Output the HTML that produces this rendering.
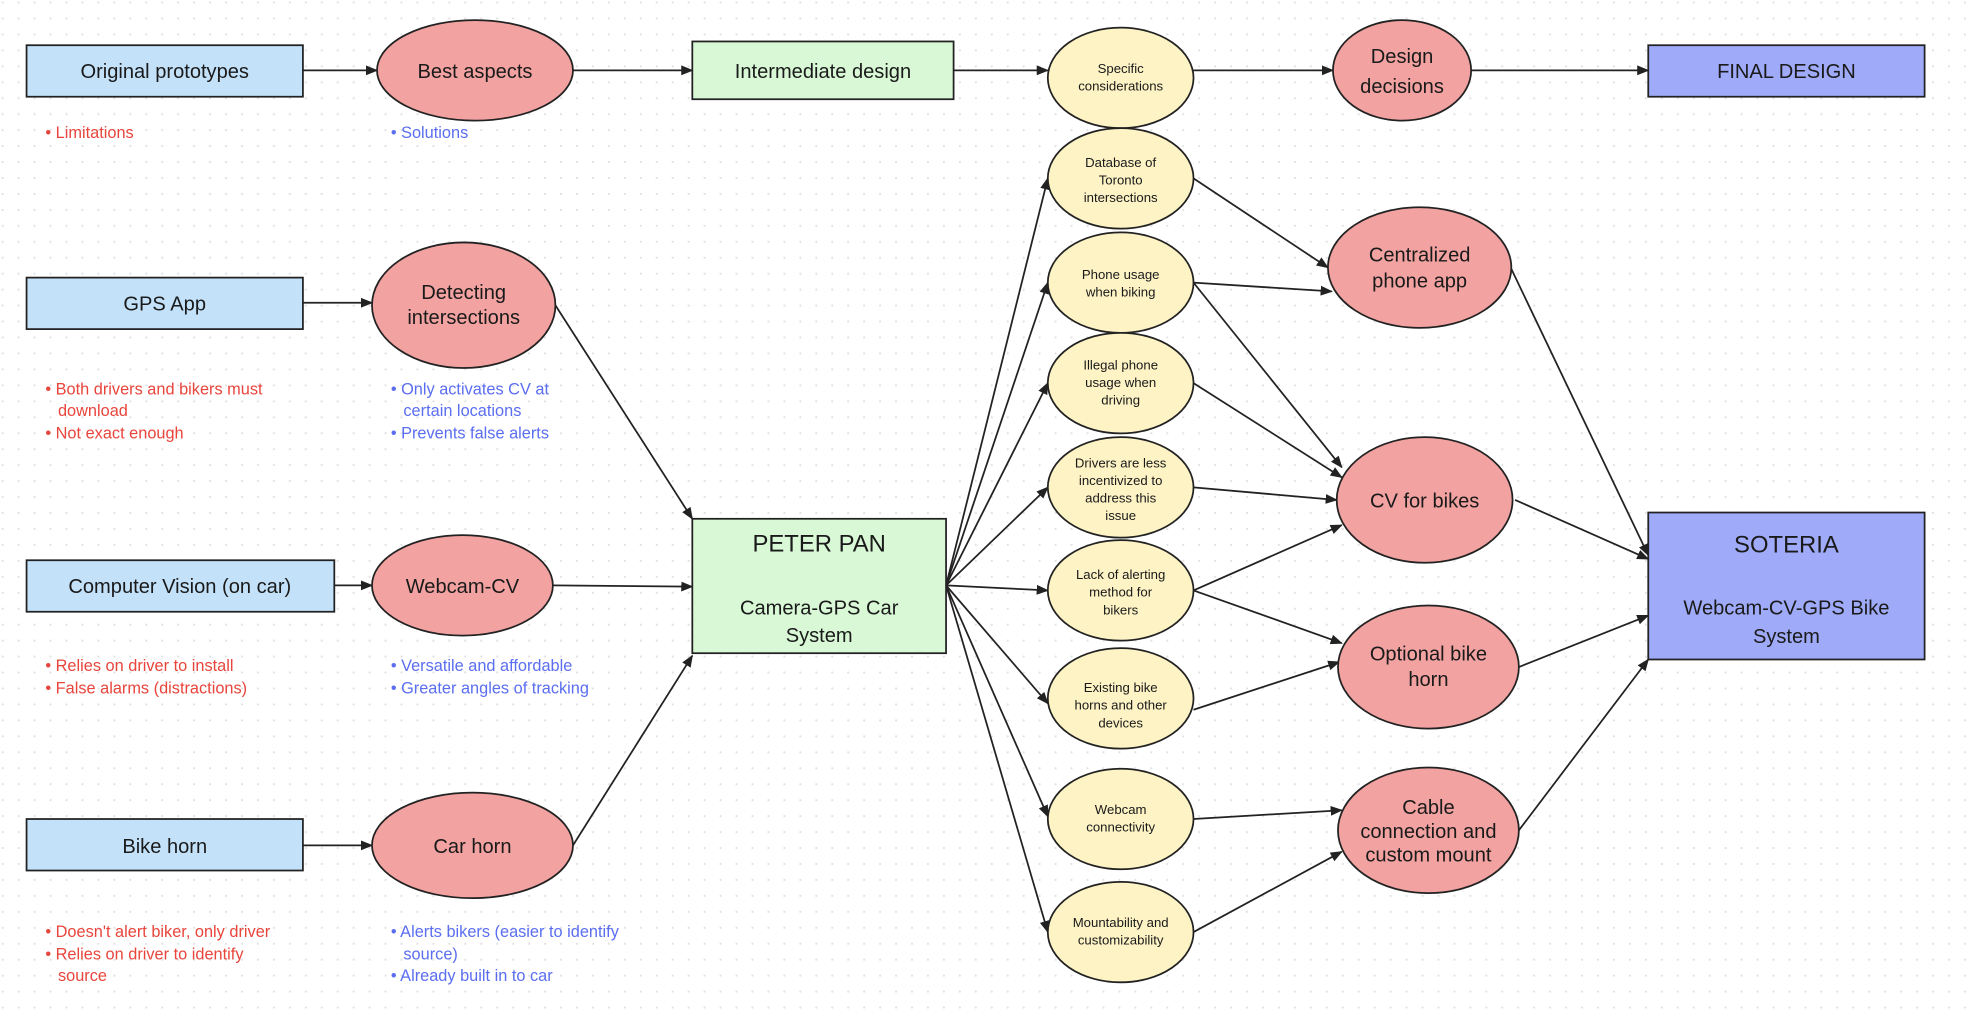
<!DOCTYPE html>
<html><head><meta charset="utf-8"><style>
html,body{margin:0;padding:0;background:#fff}
svg{display:block}
text{font-family:"Liberation Sans",sans-serif;fill:#1a1a1a}
.b{font-size:16px}
.s{font-size:10.5px}
.r{font-size:13px;fill:#e8453c}
.u{font-size:13px;fill:#5b6ef0}
</style></head><body>
<svg width="1970" height="1020" viewBox="0 0 1568 812" xmlns="http://www.w3.org/2000/svg">
<defs>
<pattern id="d" width="12.7" height="12.7" patternUnits="userSpaceOnUse"><circle cx="2" cy="2" r="0.9" fill="#e2e2e2"/></pattern>
<marker id="a" viewBox="0 0 10 10" refX="9" refY="5" markerWidth="7" markerHeight="7" orient="auto"><path d="M0,1 L10,5 L0,9 z" fill="#222"/></marker>
</defs>
<rect width="1568" height="812" fill="url(#d)"/>
<g stroke="#222" stroke-width="1.4" fill="none" marker-end="url(#a)">
<line x1="241" y1="56" x2="300" y2="56"/>
<line x1="456" y1="56" x2="551" y2="56"/>
<line x1="759" y1="56" x2="834" y2="56"/>
<line x1="950" y1="56" x2="1061" y2="56"/>
<line x1="1171" y1="56" x2="1312" y2="56"/>
<line x1="241" y1="241" x2="296" y2="241"/>
<line x1="266" y1="466" x2="296" y2="466"/>
<line x1="241" y1="673" x2="296" y2="673"/>
<line x1="442" y1="243" x2="551" y2="413"/>
<line x1="440" y1="466" x2="551" y2="467"/>
<line x1="456" y1="673" x2="551" y2="522"/>
<line x1="753" y1="466" x2="834" y2="142"/>
<line x1="753" y1="466" x2="834" y2="225"/>
<line x1="753" y1="466" x2="834" y2="305"/>
<line x1="753" y1="466" x2="834" y2="388"/>
<line x1="753" y1="466" x2="834" y2="470"/>
<line x1="753" y1="466" x2="834" y2="560"/>
<line x1="753" y1="466" x2="834" y2="650"/>
<line x1="753" y1="466" x2="834" y2="742"/>
<line x1="950" y1="142" x2="1057" y2="213"/>
<line x1="950" y1="225" x2="1060" y2="232"/>
<line x1="950" y1="225" x2="1068" y2="372"/>
<line x1="950" y1="305" x2="1068" y2="380"/>
<line x1="950" y1="388" x2="1064" y2="398"/>
<line x1="950" y1="470" x2="1068" y2="418"/>
<line x1="950" y1="470" x2="1068" y2="512"/>
<line x1="950" y1="565" x2="1066" y2="527"/>
<line x1="950" y1="652" x2="1068" y2="645"/>
<line x1="950" y1="742" x2="1068" y2="678"/>
<line x1="1202" y1="212" x2="1312" y2="442"/>
<line x1="1206" y1="398" x2="1312" y2="445"/>
<line x1="1209" y1="531" x2="1312" y2="490"/>
<line x1="1209" y1="661" x2="1312" y2="525"/>
</g>
<g stroke="#222" stroke-width="1.4">
<rect x="21" y="36" width="220" height="41" fill="#c3e2fa"/>
<rect x="21" y="221" width="220" height="41" fill="#c3e2fa"/>
<rect x="21" y="446" width="245" height="41" fill="#c3e2fa"/>
<rect x="21" y="652" width="220" height="41" fill="#c3e2fa"/>
<rect x="551" y="33" width="208" height="46" fill="#d8f8d6"/>
<rect x="551" y="413" width="202" height="107" fill="#d8f8d6"/>
<rect x="1312" y="36" width="220" height="41" fill="#9fabf8"/>
<rect x="1312" y="408" width="220" height="117" fill="#9fabf8"/>
<g fill="#f2a3a1">
<ellipse cx="378" cy="56" rx="78" ry="40"/>
<ellipse cx="369" cy="243" rx="73" ry="50"/>
<ellipse cx="368" cy="466" rx="72" ry="40"/>
<ellipse cx="376" cy="673" rx="80" ry="42"/>
<ellipse cx="1116" cy="56" rx="55" ry="40"/>
<ellipse cx="1130" cy="213" rx="73" ry="48"/>
<ellipse cx="1134" cy="398" rx="70" ry="50"/>
<ellipse cx="1137" cy="531" rx="72" ry="49"/>
<ellipse cx="1137" cy="661" rx="72" ry="50"/>
</g>
<g fill="#fdf3c5">
<ellipse cx="892" cy="62" rx="58" ry="40"/>
<ellipse cx="892" cy="142" rx="58" ry="40"/>
<ellipse cx="892" cy="225" rx="58" ry="40"/>
<ellipse cx="892" cy="305" rx="58" ry="40"/>
<ellipse cx="892" cy="388" rx="58" ry="40"/>
<ellipse cx="892" cy="470" rx="58" ry="40"/>
<ellipse cx="892" cy="556" rx="58" ry="40"/>
<ellipse cx="892" cy="652" rx="58" ry="40"/>
<ellipse cx="892" cy="742" rx="58" ry="40"/>
</g>
</g>
<g text-anchor="middle">
<text class="b" x="131" y="62">Original prototypes</text>
<text class="b" x="378" y="62">Best aspects</text>
<text class="b" x="655" y="62">Intermediate design</text>
<text class="b" x="1116" y="50">Design</text><text class="b" x="1116" y="74">decisions</text>
<text class="b" x="1422" y="62">FINAL DESIGN</text>
<text class="b" x="131" y="247">GPS App</text>
<text class="b" x="369" y="238">Detecting</text><text class="b" x="369" y="258">intersections</text>
<text class="b" x="143" y="472">Computer Vision (on car)</text>
<text class="b" x="368" y="472">Webcam-CV</text>
<text class="b" x="131" y="679">Bike horn</text>
<text class="b" x="376" y="679">Car horn</text>
<text class="b" x="652" y="439" style="font-size:19px">PETER PAN</text>
<text class="b" x="652" y="489">Camera-GPS Car</text>
<text class="b" x="652" y="511">System</text>
<text class="b" x="1422" y="440" style="font-size:19px">SOTERIA</text>
<text class="b" x="1422" y="489">Webcam-CV-GPS Bike</text>
<text class="b" x="1422" y="512">System</text>
<text class="b" x="1130" y="208">Centralized</text><text class="b" x="1130" y="229">phone app</text>
<text class="b" x="1134" y="404">CV for bikes</text>
<text class="b" x="1137" y="526">Optional bike</text><text class="b" x="1137" y="546">horn</text>
<text class="b" x="1137" y="648">Cable</text><text class="b" x="1137" y="667">connection and</text><text class="b" x="1137" y="686">custom mount</text>
<text class="s" x="892" y="58">Specific</text><text class="s" x="892" y="72">considerations</text>
<text class="s" x="892" y="133">Database of</text><text class="s" x="892" y="147">Toronto</text><text class="s" x="892" y="161">intersections</text>
<text class="s" x="892" y="222">Phone usage</text><text class="s" x="892" y="236">when biking</text>
<text class="s" x="892" y="294">Illegal phone</text><text class="s" x="892" y="308">usage when</text><text class="s" x="892" y="322">driving</text>
<text class="s" x="892" y="372">Drivers are less</text><text class="s" x="892" y="386">incentivized to</text><text class="s" x="892" y="400">address this</text><text class="s" x="892" y="414">issue</text>
<text class="s" x="892" y="461">Lack of alerting</text><text class="s" x="892" y="475">method for</text><text class="s" x="892" y="489">bikers</text>
<text class="s" x="892" y="551">Existing bike</text><text class="s" x="892" y="565">horns and other</text><text class="s" x="892" y="579">devices</text>
<text class="s" x="892" y="648">Webcam</text><text class="s" x="892" y="662">connectivity</text>
<text class="s" x="892" y="738">Mountability and</text><text class="s" x="892" y="752">customizability</text>
</g>
<g>
<text class="r" x="36" y="110">• Limitations</text>
<text class="u" x="311" y="110">• Solutions</text>
<text class="r" x="36" y="314">• Both drivers and bikers must</text>
<text class="r" x="46" y="331">download</text>
<text class="r" x="36" y="349">• Not exact enough</text>
<text class="u" x="311" y="314">• Only activates CV at</text>
<text class="u" x="321" y="331">certain locations</text>
<text class="u" x="311" y="349">• Prevents false alerts</text>
<text class="r" x="36" y="534">• Relies on driver to install</text>
<text class="r" x="36" y="552">• False alarms (distractions)</text>
<text class="u" x="311" y="534">• Versatile and affordable</text>
<text class="u" x="311" y="552">• Greater angles of tracking</text>
<text class="r" x="36" y="746">• Doesn't alert biker, only driver</text>
<text class="r" x="36" y="764">• Relies on driver to identify</text>
<text class="r" x="46" y="781">source</text>
<text class="u" x="311" y="746">• Alerts bikers (easier to identify</text>
<text class="u" x="321" y="764">source)</text>
<text class="u" x="311" y="781">• Already built in to car</text>
</g>
</svg>
</body></html>
